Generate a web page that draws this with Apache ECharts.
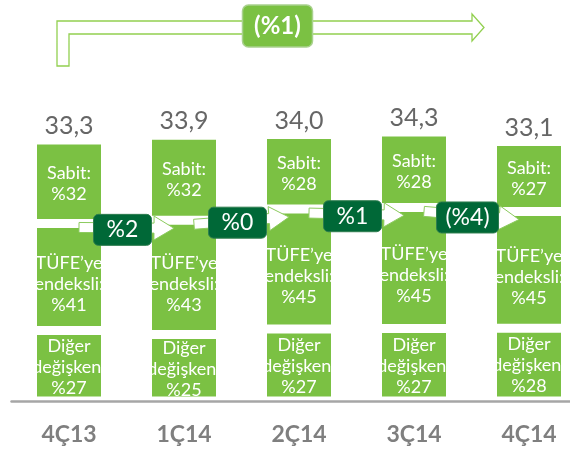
<!DOCTYPE html>
<html>
<head>
<meta charset="utf-8">
<script src="https://cdn.jsdelivr.net/npm/echarts@6/dist/echarts.min.js"></script>
<style>
html,body{margin:0;padding:0;background:#fff;}
#c{width:570px;height:452px;}
</style>
</head>
<body>
<div id="c"></div>
<script>
// ---- data ----
var categories = ['4Ç13', '1Ç14', '2Ç14', '3Ç14', '4Ç14'];
var totals = [33.3, 33.9, 34.0, 34.3, 33.1];
var sabitPct = [32, 32, 28, 28, 27];
var tufePct = [41, 43, 45, 45, 45];
var digerPct = [27, 25, 27, 27, 28];
var changes = ['%2', '%0', '%1', '(%4)'];
var overallChange = '(%1)';

// ---- build ----
var FONT = 'Lato, "Noto Sans", sans-serif';
var GREEN = '#7BC143';
var DARK = '#006837';

function seg(pcts) {
  return pcts.map(function (p, i) { return +(totals[i] * p / 100).toFixed(4); });
}
function fmtTotal(v) { return v.toFixed(1).replace('.', ','); }

var segStyle = { color: GREEN, borderColor: '#ffffff', borderWidth: 4.5 };
var segLabel = function (title, pcts, dy) {
  return {
    show: true, position: 'inside', color: '#ffffff', fontFamily: FONT,
    fontSize: 18, lineHeight: 21, overflow: 'none', offset: [0, dy],
    formatter: function (p) { return title + '\n%' + pcts[p.dataIndex]; }
  };
};

var chart = echarts.init(document.getElementById('c'), null, { renderer: 'canvas' });
var option = {
  animation: false,
  backgroundColor: '#ffffff',
  grid: { left: 11.5, width: 575, top: 87.4, height: 313.6, containLabel: false, outerBoundsMode: 'none' },
  xAxis: {
    type: 'category', data: categories, z: 10,
    axisLine: { lineStyle: { color: '#A6A6A6', width: 2.5 } },
    axisTick: { show: false },
    axisLabel: { color: '#7F7F7F', fontFamily: FONT, fontWeight: 'bold', fontSize: 23, margin: 22 }
  },
  yAxis: { type: 'value', min: 0, max: 40, show: false, splitLine: { show: false } },
  series: [
    { name: 'Diğer', type: 'bar', stack: 't', barWidth: 73, data: seg(digerPct),
      itemStyle: segStyle, label: segLabel('Diğer\ndeğişken:', digerPct, 1) },
    { name: 'TÜFE', type: 'bar', stack: 't', barWidth: 73, data: seg(tufePct),
      itemStyle: segStyle, label: segLabel('TÜFE’ye\nendeksli:', tufePct, 7) },
    { name: 'Sabit', type: 'bar', stack: 't', barWidth: 73, data: seg(sabitPct),
      itemStyle: segStyle, label: segLabel('Sabit:', sabitPct, 2) },
    { name: 'Toplam', type: 'scatter', data: totals, symbolSize: 1,
      itemStyle: { color: 'rgba(0,0,0,0)' },
      label: { show: true, position: 'top', distance: 1, color: '#404040', fontFamily: FONT, fontSize: 25,
        formatter: function (p) { return fmtTotal(p.value); } } }
  ]
};
chart.setOption(option);

// ---- annotations anchored to the data ----
function px(i, v) { return chart.convertToPixel({ seriesIndex: 3 }, [i, v]); }
var centers = [], yb = [];
for (var i = 0; i < categories.length; i++) {
  var b = totals[i] * (digerPct[i] + tufePct[i]) / 100;
  var p = px(i, b);
  centers.push(p[0]); yb.push(p[1]);
}

function arrowPoints(x0, y0, x1, y1, h, H, L) {
  var dx = x1 - x0, dy = y1 - y0, len = Math.sqrt(dx * dx + dy * dy);
  var ux = dx / len, uy = dy / len, nx = -uy, ny = ux;
  var bx = x1 - ux * L, by = y1 - uy * L;
  return [
    [x0 + nx * h, y0 + ny * h], [bx + nx * h, by + ny * h], [bx + nx * H, by + ny * H],
    [x1, y1],
    [bx - nx * H, by - ny * H], [bx - nx * h, by - ny * h], [x0 - nx * h, y0 - ny * h]
  ];
}

var graphics = [];
for (var k = 0; k < changes.length; k++) {
  var sx = centers[k] + 10, sy = yb[k] + 4;
  var ex = centers[k + 1] - 10, ey = yb[k + 1] + 8;
  graphics.push({
    type: 'polygon', z: 100,
    shape: { points: arrowPoints(sx, sy, ex, ey, 5, 12, 20) },
    style: { fill: '#ffffff', stroke: '#8CCB5E', lineWidth: 1 }
  });
  var bw = changes[k].indexOf('(') >= 0 ? 62 : 58, bh = 31;
  var cx = (centers[k] + centers[k + 1]) / 2 - 4, cy = (yb[k] + yb[k + 1]) / 2 + 8;
  graphics.push({
    type: 'rect', z: 101,
    shape: { x: cx - bw / 2, y: cy - bh / 2, width: bw, height: bh, r: 5 },
    style: { fill: DARK, stroke: '#2E7D4F', lineWidth: 1 }
  });
  graphics.push({
    type: 'text', z: 102, x: cx, y: cy,
    style: { text: changes[k], fill: '#ffffff', font: '23px ' + FONT, textAlign: 'center', textVerticalAlign: 'middle' }
  });
}

// top overall arrow
var xs = centers[0] - 12, xs2 = centers[0], tip = centers[4] - 45, hb = tip - 12;
graphics.push({
  type: 'polygon', z: 100,
  shape: { points: [[xs, 66], [xs, 21], [hb, 21], [hb, 14], [tip, 27.5], [hb, 41], [hb, 34], [xs2, 34], [xs2, 66]] },
  style: { fill: 'none', stroke: '#92D050', lineWidth: 1.3 }
});
var tcx = (xs + tip) / 2 + 7, tcy = 26;
graphics.push({
  type: 'rect', z: 101,
  shape: { x: tcx - 35, y: tcy - 21, width: 70, height: 42, r: 6 },
  style: { fill: GREEN, stroke: '#A9D18E', lineWidth: 1.5 }
});
graphics.push({
  type: 'text', z: 102, x: tcx, y: tcy,
  style: { text: overallChange, fill: '#ffffff', font: 'bold 24px ' + FONT, textAlign: 'center', textVerticalAlign: 'middle' }
});

chart.setOption({ graphic: { elements: graphics } });
</script>
</body>
</html>
